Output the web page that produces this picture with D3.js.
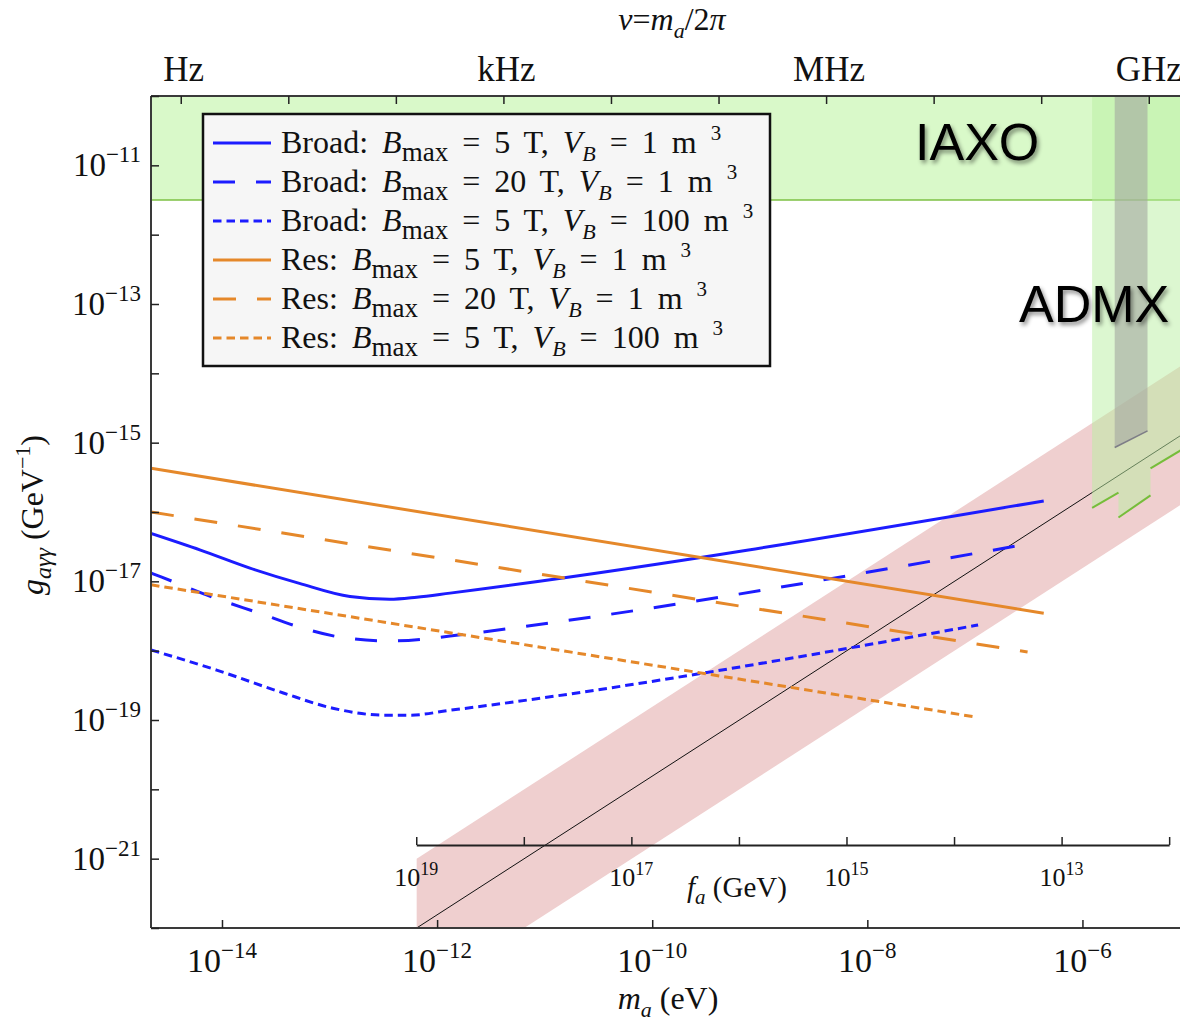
<!DOCTYPE html>
<html>
<head>
<meta charset="utf-8">
<script src="https://cdn.jsdelivr.net/npm/d3@7"></script>
<style>
body{margin:0;background:#fff;}
svg{display:block;font-family:"Liberation Serif","Times New Roman",serif;}
text{white-space:pre;}
</style>
</head>
<body>
<div id="chart"></div>
<script>
// sensitivity curves as [log10 m_a (eV), log10 g (GeV^-1)]
const broadB5V1=[[-14.66,-16.31],[-14.20,-16.55],[-13.74,-16.81],[-13.28,-17.03],[-12.81,-17.22],[-12.44,-17.26],[-12.19,-17.23],[-11.88,-17.17],[-6.36,-15.84]];
const broadB20V1=[[-14.66,-16.88],[-14.56,-16.94],[-14.05,-17.25],[-13.65,-17.46],[-13.28,-17.66],[-12.88,-17.81],[-12.44,-17.86],[-12.04,-17.82],[-11.88,-17.79],[-6.54,-16.47]];
const broadB5V100=[[-14.66,-17.99],[-14.05,-18.28],[-13.43,-18.61],[-12.97,-18.83],[-12.50,-18.93],[-12.25,-18.93],[-11.88,-18.86],[-6.97,-17.63]];
const resB5V1=[[-14.66,-15.37],[-6.36,-17.46]];
const resB20V1=[[-14.66,-16.00],[-6.51,-18.02]];
const resB5V100=[[-14.66,-17.05],[-6.98,-18.96]];

// legend parameters per series
const seriesKind=["Broad","Broad","Broad","Res","Res","Res"];
const seriesBmax=[5,20,5,5,20,5];
const seriesVB=[1,1,100,1,1,100];

// QCD axion line and band
const axionLine=[[-12.19,-22.00],[-5.00,-14.81]];
const bandUpper=[[-12.19,-21.00],[-5.00,-13.81]];
const bandLower=[[-12.19,-23.00],[-5.00,-15.81]];

// experiments
const iaxoLimit=[[-14.66,-11.50],[-5.00,-11.50]];
const admxEdge=[[-5.91,-15.94],[-5.665,-15.72],[-5.665,-16.08],[-5.367,-15.76],[-5.367,-15.37],[-5.00,-15.03]];
const admxGrayEdge=[[-5.70,-15.07],[-5.395,-14.83]];

// axes ticks
const massTicks=[-14,-12,-10,-8,-6];
const couplingTicks=[-22,-21,-20,-19,-18,-17,-16,-15,-14,-13,-12,-11,-10];
const couplingLabels=[-21,-19,-17,-15,-13,-11];
const freqTicks=[0,1,2,3,4,5,6,7,8,9];
const freqLabels=["Hz","kHz","MHz","GHz"];
const faTicks=[19,18,17,16,15,14,13,12];
const faLabels=[19,17,15,13];

const hPlanck=4.1357e-15; // eV s
const maFa=6.4e6; // eV GeV

const W=1180,H=1022;
const L=151,R=1190,T=96,B=928;
const p10=v=>Math.pow(10,v);

const x=d3.scaleLog().domain([p10(-14.66),1e-5]).range([L,R]);
const y=d3.scaleLog().domain([1e-22,1e-10]).range([B,T]);
const xf=d3.scaleLog().domain(x.domain().map(m=>m/hPlanck)).range([L,R]);

const svg=d3.select("#chart").append("svg").attr("width",W).attr("height",H);
const defs=svg.append("defs");
defs.append("clipPath").attr("id","plotclip").append("rect")
    .attr("x",L).attr("y",T).attr("width",R-L).attr("height",B-T);
const shadow=defs.append("filter").attr("id","shadow").attr("x","-20%").attr("y","-20%").attr("width","140%").attr("height","160%");
shadow.append("feDropShadow").attr("dx",2).attr("dy",3).attr("stdDeviation",2)
    .attr("flood-color","#000").attr("flood-opacity",0.45);

const line=d3.line().x(d=>x(p10(d[0]))).y(d=>y(p10(d[1])));
const smooth=d3.line().x(d=>x(p10(d[0]))).y(d=>y(p10(d[1]))).curve(d3.curveMonotoneX);

const plot=svg.append("g").attr("clip-path","url(#plotclip)");

// IAXO band
plot.append("path")
    .attr("d",line([[iaxoLimit[0][0],-10]].concat(iaxoLimit,[[iaxoLimit[1][0],-10]])))
    .attr("fill","#d9f9c9");
plot.append("path").attr("d",line(iaxoLimit)).attr("fill","none").attr("stroke","#7cc043").attr("stroke-width",1.5);

// QCD band
plot.append("path")
    .attr("d",line(bandUpper.concat(bandLower.slice().reverse())))
    .attr("fill","#efcfcf");
plot.append("path").attr("d",line(axionLine)).attr("fill","none").attr("stroke","#111").attr("stroke-width",1);

// sensitivity curves
const series=[broadB5V1,broadB20V1,broadB5V100,resB5V1,resB20V1,resB5V100];
const colors=["#1c1cff","#1c1cff","#1c1cff","#e5882a","#e5882a","#e5882a"];
const dashes=[null,"22,21","8.5,5",null,"23,21","8.5,5"];
series.forEach(function(s,i){
    plot.append("path").attr("d",smooth(s))
        .attr("fill","none").attr("stroke",colors[i]).attr("stroke-width",3)
        .attr("stroke-dasharray",dashes[i]);
});

// ADMX
const admxTop=[[admxEdge[admxEdge.length-1][0],-10],[admxEdge[0][0],-10]];
plot.append("path").attr("d",line(admxEdge.concat(admxTop)))
    .attr("fill","#b9f0a2").attr("fill-opacity",0.5);
plot.append("path").attr("d",line(admxGrayEdge.concat([[admxGrayEdge[1][0],-10],[admxGrayEdge[0][0],-10]])))
    .attr("fill","#a3a7a0").attr("fill-opacity",0.6);
plot.append("path").attr("d",line(admxGrayEdge)).attr("stroke","#7d7d86").attr("stroke-width",1.5).attr("fill","none");
[[0,1],[2,3],[4,5]].forEach(function(p){
    plot.append("path").attr("d",line([admxEdge[p[0]],admxEdge[p[1]]]))
        .attr("stroke","#76bd3a").attr("stroke-width",2).attr("fill","none");
});

// rich text helper: parts are {t, it, sub, sup}
function rich(g,parts,size,xx,yy,anchor){
    const t=g.append("text").attr("x",xx).attr("y",yy).attr("font-size",size+"px")
        .attr("text-anchor",anchor||"start").attr("fill","#111");
    let off=0;
    parts.forEach(function(p){
        let target=p.sub?size*0.25:(p.sup?-size*0.42:0);
        const ts=t.append("tspan").text(p.t).attr("dy",target-off);
        if(p.it) ts.style("font-style","italic");
        if(p.sub) ts.attr("font-size",(p.fs||size*0.85)+"px");
        if(p.sup) ts.attr("font-size",(p.fs||size*0.66)+"px");
        off=target;
    });
    return t;
}

// frame
const frame=svg.append("g").attr("stroke","#3a3a3a").attr("stroke-width",2).attr("fill","none");
frame.append("line").attr("x1",L).attr("x2",W+5).attr("y1",T).attr("y2",T);
frame.append("line").attr("x1",L).attr("x2",L).attr("y1",T).attr("y2",B);
frame.append("line").attr("x1",L).attr("x2",W+5).attr("y1",B).attr("y2",B);

// bottom axis
const xAxis=d3.axisBottom(x).tickValues(massTicks.map(p10)).tickSize(-8).tickFormat("");
svg.append("g").attr("transform",`translate(0,${B})`).call(xAxis)
    .call(g=>g.select(".domain").remove())
    .call(g=>g.selectAll("line").attr("stroke","#222").attr("stroke-width",1.5));
massTicks.forEach(function(e){
    rich(svg,[{t:"10"},{t:"\u2212"+(-e),sup:true,fs:23}],34,x(p10(e)),972,"middle");
});
rich(svg,[{t:"m",it:true},{t:"a",it:true,sub:true,fs:22},{t:" (eV)"}],32,668,1009,"middle");

// left axis
const yAxis=d3.axisLeft(y).tickValues(couplingTicks.map(p10)).tickSize(-8).tickFormat("");
svg.append("g").attr("transform",`translate(${L},0)`).call(yAxis)
    .call(g=>g.select(".domain").remove())
    .call(g=>g.selectAll("line").attr("stroke","#222").attr("stroke-width",1.5));
couplingLabels.forEach(function(e){
    rich(svg,[{t:"10"},{t:"\u2212"+(-e),sup:true,fs:23}],33,141,y(p10(e))+11,"end");
});
rich(svg,[{t:"g",it:true},{t:"a\u03b3\u03b3",it:true,sub:true,fs:24},{t:" (GeV"},{t:"\u22121",sup:true,fs:22},{t:")"}],32,0,0,"middle")
    .attr("transform","translate(43,515) rotate(-90)");

// top axis
const fAxis=d3.axisTop(xf).tickValues(freqTicks.map(p10)).tickSize(-8).tickFormat("");
svg.append("g").attr("transform",`translate(0,${T})`).call(fAxis)
    .call(g=>g.select(".domain").remove())
    .call(g=>g.selectAll("line").attr("stroke","#222").attr("stroke-width",1.5));
svg.selectAll(".flabel").data(freqLabels).enter().append("text")
    .attr("class","flabel")
    .attr("x",(d,i)=>xf(p10(3*i))+(i<3?3:0)).attr("y",81)
    .attr("text-anchor","middle").attr("font-size","35px").attr("fill","#111")
    .text(d=>d);
rich(svg,[{t:"\u03bd",it:true},{t:"="},{t:"m",it:true},{t:"a",it:true,sub:true,fs:22},{t:"/2"},{t:"\u03c0",it:true}],32,672,30,"middle");

// inset f_a axis
const xa=d3.scaleLog().domain([1e19,1e12]).range([x(maFa/1e19),x(maFa/1e12)]);
const insetY=845;
const faAxis=d3.axisTop(xa).tickValues(faTicks.map(p10)).tickSize(8).tickFormat("").tickSizeOuter(0);
svg.append("g").attr("transform",`translate(0,${insetY})`).call(faAxis)
    .call(g=>g.select(".domain").attr("stroke","#222").attr("stroke-width",2))
    .call(g=>g.selectAll("line").attr("stroke","#222").attr("stroke-width",1.5));
faLabels.forEach(function(e){
    rich(svg,[{t:"10"},{t:String(e),sup:true,fs:18}],26,xa(p10(e)),886,"middle");
});
rich(svg,[{t:"f",it:true},{t:"a",it:true,sub:true,fs:21},{t:" (GeV)"}],29,737,897,"middle");

// experiment names
svg.append("text").attr("x",915).attr("y",160).attr("font-family","'Liberation Sans',Arial,sans-serif")
    .attr("font-size","52px").attr("fill","#000").attr("filter","url(#shadow)").text("IAXO");
svg.append("text").attr("x",1019).attr("y",322).attr("font-family","'Liberation Sans',Arial,sans-serif")
    .attr("font-size","52px").attr("fill","#000").attr("filter","url(#shadow)").text("ADMX");

// legend
const leg=svg.append("g");
leg.append("rect").attr("x",203).attr("y",114).attr("width",567).attr("height",252)
    .attr("fill","#f6f6f6").attr("stroke","#111").attr("stroke-width",2.5);
seriesKind.forEach(function(k,i){
    const yy=143+39*i;
    leg.append("line").attr("x1",213).attr("x2",271).attr("y1",yy).attr("y2",yy)
        .attr("stroke",colors[i]).attr("stroke-width",3).attr("stroke-dasharray",dashes[i]);
    rich(leg,[{t:k+": "},{t:"B",it:true},{t:"max",sub:true,fs:27},{t:" = "+seriesBmax[i]+" T, "},
        {t:"V",it:true},{t:"B",it:true,sub:true,fs:22},{t:" = "+seriesVB[i]+" m "},{t:"3",sup:true,fs:21}],
        32,281,yy+10).attr("word-spacing","6px");
});
</script>
</body>
</html>
